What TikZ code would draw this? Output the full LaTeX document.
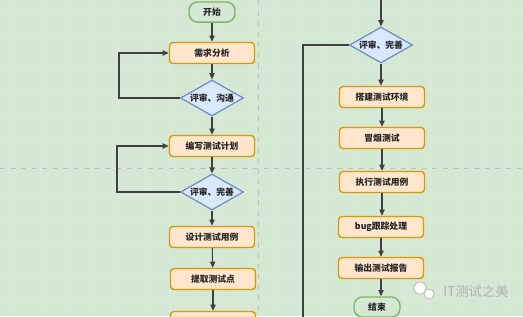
\documentclass[tikz,border=0pt]{standalone}
\usepackage{fontspec}
\newfontfamily\cjk{Noto Sans CJK SC}
\usepackage{xcolor}
\usetikzlibrary{arrows.meta,shapes.geometric,positioning,calc}

\definecolor{pagebg}{HTML}{D5E8D4}
\definecolor{boxfill}{HTML}{FFE6CC}
\definecolor{boxline}{HTML}{D79B00}
\definecolor{decfill}{HTML}{DAE8FC}
\definecolor{decline}{HTML}{6C8EBF}
\definecolor{termline}{HTML}{82B366}

\begin{document}
\begin{tikzpicture}[
  x=0.02cm, y=-0.02cm,
  stepbox/.style={rectangle, rounded corners=2pt, draw=boxline, fill=boxfill, line width=0.8pt, minimum width=1.7cm, minimum height=0.42cm, font=\cjk\bfseries\fontsize{5}{6}\selectfont, text=black!85, inner sep=1pt},
  decision/.style={diamond, draw=decline, fill=decfill, line width=0.7pt, minimum width=1.26cm, minimum height=0.72cm, aspect=1.75, inner sep=0pt, font=\cjk\bfseries\fontsize{5}{6}\selectfont, text=black!85},
  terminal/.style={rectangle, rounded corners=0.17cm, draw=termline, fill=pagebg, line width=0.8pt, minimum width=0.92cm, minimum height=0.34cm, font=\cjk\bfseries\fontsize{5}{6}\selectfont, text=black!85},
  arr/.style={-{Triangle[length=3.5pt,width=3pt]}, line width=0.6pt, draw=black!75},
  wire/.style={line width=0.6pt, draw=black!75},
  pagebreak/.style={dashed, draw=black!25, line width=0.4pt}
]
\clip (0,0) rectangle (523,316);
\fill[pagebg] (0,0) rectangle (523,316);
% faint grid
\foreach \gx in {14,40,...,522} \draw[white, opacity=0.15, line width=0.3pt] (\gx,0) -- (\gx,316);
\foreach \gy in {12,38,...,316} \draw[white, opacity=0.15, line width=0.3pt] (0,\gy) -- (523,\gy);
\draw[pagebreak] (258,0) -- (258,316);
\draw[pagebreak] (0,168) -- (523,168);

% left column
\node[terminal] (start) at (212,12) {开始};
\node[stepbox] (req) at (212,53) {需求分析};
\node[decision] (rev1) at (212,98) {评审、沟通};
\node[stepbox] (plan) at (212,146) {编写测试计划};
\node[decision] (rev2) at (212,192) {评审、完善};
\node[stepbox] (design) at (212,237) {设计测试用例};
\node[stepbox] (points) at (213,279) {提取测试点};
\node[stepbox] (next) at (213,322) {};

\draw[arr] (start) -- (req);
\draw[arr] (req) -- (rev1);
\draw[arr] (rev1) -- (plan);
\draw[arr] (plan) -- (rev2);
\draw[arr] (rev2) -- (design);
\draw[arr] (design) -- (points);
\draw[arr] (points) -- (next);
\coordinate (loop1) at (119,98);
\coordinate (loop2) at (117,192);
\draw[arr] (rev1.west) -- (loop1) |- (req.west);
\draw[arr] (rev2.west) -- (loop2) |- (plan.west);

% right column
\coordinate (cont) at (381,0);
\node[decision] (rev3) at (381,45) {评审、完善};
\node[stepbox] (env) at (382,97) {搭建测试环境};
\node[stepbox] (smoke) at (382,138) {冒烟测试};
\node[stepbox] (exec) at (382,182) {执行测试用例};
\node[stepbox] (bug) at (381,227) {bug跟踪处理};
\node[stepbox] (report) at (381,268) {输出测试报告};
\node[terminal] (stop) at (377,307) {结束};

\draw[arr] (cont) -- (rev3);
\draw[arr] (rev3) -- (rev3 |- env.north);
\draw[arr] (env) -- (env |- smoke.north);
\draw[arr] (smoke) -- (smoke |- exec.north);
\draw[arr] (exec) -- (exec |- bug.north);
\draw[arr] (bug) -- (bug |- report.north);
\draw[arr] (report) -- (report |- stop.north);
\coordinate (back) at (303,45);
\coordinate (backend) at (303,320);
\draw[wire] (rev3.west) -- (back) -- (backend);

% watermark
\fill[white, draw=black!35, line width=0.3pt] (420,288) circle (6);
\fill[white, draw=black!35, line width=0.3pt] (429,294) circle (5);
\node[font=\cjk\fontsize{7.6}{9}\selectfont, text=white!70!black, anchor=west, inner sep=0pt] (mark) at (443,291) {IT测试之美};
\end{tikzpicture}
\end{document}
